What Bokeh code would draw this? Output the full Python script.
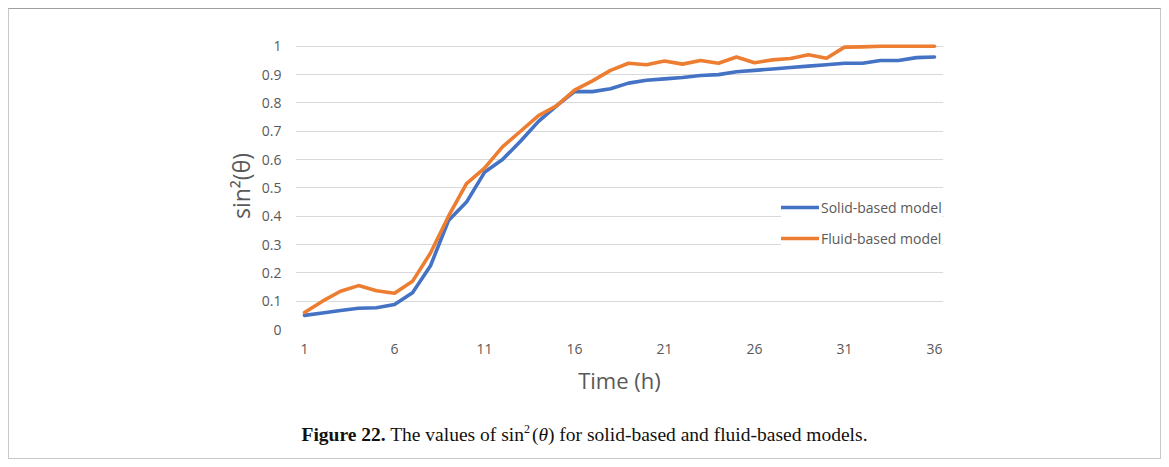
from bokeh.plotting import figure
from bokeh.models import FixedTicker, Range1d, Legend, LegendItem, NumeralTickFormatter, Div
from bokeh.layouts import column
from bokeh.embed import file_html
from bokeh.resources import INLINE

# ---- data ----
hours = list(range(1, 37))
solid = [0.05, 0.058, 0.067, 0.075, 0.077, 0.088, 0.13, 0.225, 0.385, 0.45,
         0.555, 0.60, 0.665, 0.735, 0.79, 0.84, 0.84, 0.85, 0.87, 0.88,
         0.885, 0.89, 0.897, 0.90, 0.91, 0.915, 0.92, 0.925, 0.93, 0.935,
         0.94, 0.94, 0.95, 0.95, 0.96, 0.962]
fluid = [0.06, 0.10, 0.135, 0.155, 0.137, 0.128, 0.17, 0.27, 0.40, 0.515,
         0.57, 0.645, 0.70, 0.755, 0.79, 0.845, 0.878, 0.915, 0.94, 0.935,
         0.948, 0.937, 0.95, 0.94, 0.962, 0.942, 0.952, 0.957, 0.97, 0.958,
         0.997, 0.998, 1.0, 1.0, 1.0, 1.0]
x_ticks = [1, 6, 11, 16, 21, 26, 31, 36]
y_ticks = [0, 0.1, 0.2, 0.3, 0.4, 0.5, 0.6, 0.7, 0.8, 0.9, 1.0]
series_names = ["Solid-based model", "Fluid-based model"]
x_label = "Time (h)"
y_label = "sin²(θ)"
caption_html = ("<b>Figure 22.</b> The values of sin<sup style='font-size:12px; "
                "margin-right:2px'>2</sup>(<i>θ</i>) for solid-based and fluid-based models.")

BLUE = "#4472C4"
ORANGE = "#ED7D31"
GRAY = "#595959"

p = figure(width=1151, height=395, output_backend="svg", toolbar_location=None,
           x_range=Range1d(0.5, 36.5), y_range=Range1d(0, 1.0134),
           min_border_left=286, min_border_right=217,
           min_border_top=33, min_border_bottom=75, margin=0)
p.outline_line_color = None
p.background_fill_color = "white"
p.border_fill_color = "white"

p.xgrid.grid_line_color = None
p.ygrid.grid_line_color = "#d9d9d9"
p.ygrid.grid_line_width = 1

p.xaxis.ticker = FixedTicker(ticks=x_ticks)
p.yaxis.ticker = FixedTicker(ticks=y_ticks)
p.yaxis.formatter = NumeralTickFormatter(format="0.[0]")
for ax in (p.xaxis, p.yaxis):
    ax.axis_line_color = None
    ax.major_tick_line_color = None
    ax.minor_tick_line_color = None
    ax.major_tick_out = 0
    ax.major_tick_in = 0
    ax.major_label_text_font = "Open Sans"
    ax.major_label_text_font_size = "14px"
    ax.major_label_text_color = GRAY
    ax.axis_label_text_font = "Open Sans"
    ax.axis_label_text_font_style = "normal"
    ax.axis_label_text_color = GRAY
p.xaxis.axis_label_text_font_size = "22px"
p.yaxis.axis_label_text_font_size = "23px"
p.xaxis.major_label_standoff = 14
p.yaxis.major_label_standoff = 14
p.xaxis.axis_label = x_label
p.yaxis.axis_label = y_label
p.xaxis.axis_label_standoff = 8
p.yaxis.axis_label_standoff = 2

r1 = p.line(hours, solid, line_color=BLUE, line_width=3.6, line_join="round", line_cap="round")
r2 = p.line(hours, fluid, line_color=ORANGE, line_width=3.6, line_join="round", line_cap="round")

legend = Legend(items=[LegendItem(label=series_names[0], renderers=[r1]),
                       LegendItem(label=series_names[1], renderers=[r2])],
                location=(486, 81), padding=0, margin=0, spacing=11,
                glyph_width=38, glyph_height=20, label_height=20, label_standoff=2,
                border_line_color=None, background_fill_color="white", background_fill_alpha=1,
                label_text_font="Open Sans", label_text_font_size="14px",
                label_text_color=GRAY)
p.add_layout(legend)

cap = Div(text="<div style=\"width:1151px; text-align:center; padding-top:13px; "
               "font-family:'Liberation Serif', serif; font-size:19.5px; color:#111111; "
               "line-height:24px;\">" + caption_html + "</div>",
          width=1151, height=54, margin=0)

page = column(p, cap, margin=8, spacing=0,
              styles={"border-top": "1px solid #a0a0a0", "border-left": "1px solid #c8c8c8",
                      "border-right": "1px solid #c8c8c8", "border-bottom": "1px solid #c8c8c8",
                      "background-color": "white"})

open("out.html", "w").write(file_html(page, INLINE))
